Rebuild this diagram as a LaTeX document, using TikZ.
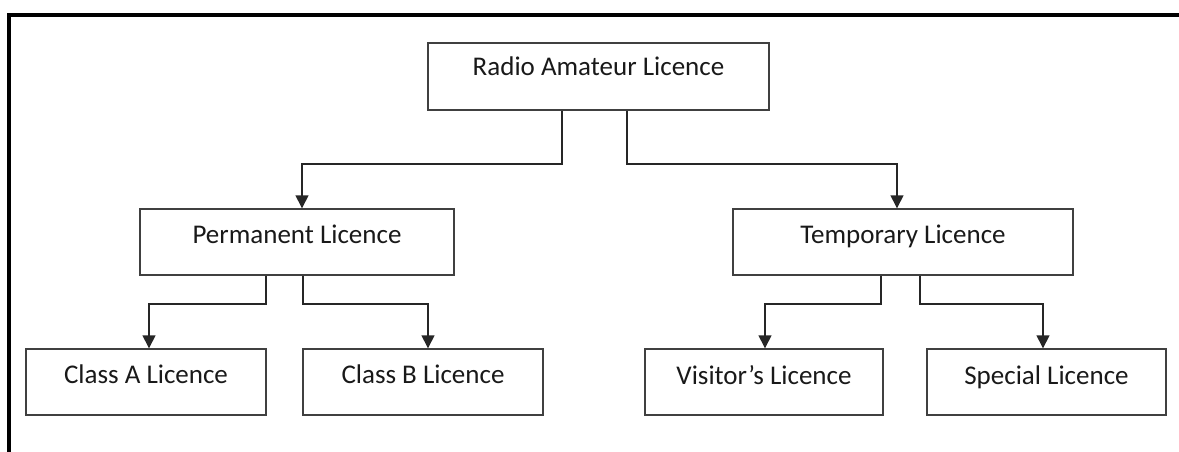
\documentclass[tikz,border=0pt]{standalone}
\usepackage{fontspec}
\setmainfont{Carlito}
\usetikzlibrary{arrows.meta}
\begin{document}
\begin{tikzpicture}[x=1pt,y=-1pt,
  box/.style={draw=black!75, line width=1.4pt, inner sep=0pt, minimum height=66pt},
  lbl/.style={font=\fontsize{27}{30}\selectfont, text=black!90, anchor=base, inner sep=0pt},
  arr/.style={draw=black!85, line width=1.4pt, -{Triangle[length=13pt,width=13pt]}}]
\useasboundingbox (0,0) rectangle (1179,451);
\draw[line width=4pt] (9.2,460) -- (9.2,15.3) -- (1190,15.3);
% boxes
\node[box, minimum width=341pt, minimum height=67pt] (top) at (598.5,76.5) {};
\node[box, minimum width=314pt] (perm) at (297,242) {};
\node[box, minimum width=340pt] (temp) at (903,242) {};
\node[box, minimum width=240pt] (ca) at (146,382) {};
\node[box, minimum width=240pt] (cb) at (423,382) {};
\node[box, minimum width=238pt] (vis) at (764,382) {};
\node[box, minimum width=239pt] (spe) at (1046.5,382) {};
% labels
\node[lbl] (ttop) at ([yshift=-33.5pt]top.north) {Radio Amateur Licence};
\node[lbl] (tperm) at ([yshift=-35.5pt]perm.north) {Permanent Licence};
\node[lbl] (ttemp) at ([yshift=-35.5pt]temp.north) {Temporary Licence};
\node[lbl] (tca) at ([yshift=-35.5pt]ca.north) {Class A Licence};
\node[lbl] (tcb) at ([yshift=-35.5pt]cb.north) {Class B Licence};
\node[lbl] (tvis) at ([yshift=-36pt]vis.north) {Visitor’s Licence};
\node[lbl] (tspe) at ([yshift=-36pt]spe.north) {Special Licence};
% levels
\coordinate (h1) at (0,164);
\coordinate (h2) at (0,304);
\coordinate (s1) at ([xshift=-36.5pt]top.south);
\coordinate (s2) at ([xshift=28.5pt]top.south);
\coordinate (e1) at ([xshift=5pt]perm.north);
\coordinate (e2) at ([xshift=-6pt]temp.north);
\coordinate (s3) at ([xshift=-31pt]perm.south);
\coordinate (s4) at ([xshift=6pt]perm.south);
\coordinate (s5) at ([xshift=-22pt]temp.south);
\coordinate (s6) at ([xshift=17pt]temp.south);
\coordinate (e3) at ([xshift=3pt]ca.north);
\coordinate (e4) at ([xshift=5pt]cb.north);
\coordinate (e5) at ([xshift=1pt]vis.north);
\coordinate (e6) at ([xshift=-3.5pt]spe.north);
% connectors
\draw[arr] (s1) -- (s1 |- h1) -- (e1 |- h1) -- (e1);
\draw[arr] (s2) -- (s2 |- h1) -- (e2 |- h1) -- (e2);
\draw[arr] (s3) -- (s3 |- h2) -- (e3 |- h2) -- (e3);
\draw[arr] (s4) -- (s4 |- h2) -- (e4 |- h2) -- (e4);
\draw[arr] (s5) -- (s5 |- h2) -- (e5 |- h2) -- (e5);
\draw[arr] (s6) -- (s6 |- h2) -- (e6 |- h2) -- (e6);
\end{tikzpicture}
\end{document}
